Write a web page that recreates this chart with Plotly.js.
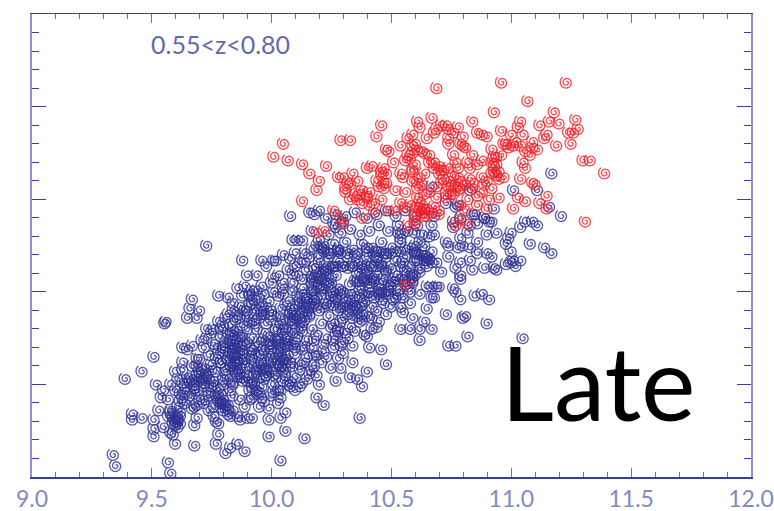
<!DOCTYPE html>
<html><head><meta charset="utf-8">
<script src="https://cdn.plot.ly/plotly-3.0.1.min.js"></script>
<style>html,body{margin:0;padding:0;background:#fff}#c{width:774px;height:511px}</style>
</head><body><div id="c"></div>
<script>
const blueX = [
9.34,9.35,9.39,9.46,9.51,9.555,9.56,9.42,9.42,9.46,
9.51,9.51,9.51,9.57,9.58,9.60,9.68,9.77,9.81,9.83,
9.86,9.89,10.04,9.99,10.06,10.14,10.37,9.99,10.04,10.06,
9.78,9.52,9.55,9.54,9.57,9.58,9.53,9.55,9.58,9.59,
9.58,9.61,9.62,9.60,9.61,9.63,9.61,9.68,9.69,9.69,
9.67,9.76,9.77,9.78,9.74,9.80,9.79,9.82,9.86,9.87,
9.90,9.92,9.89,9.95,9.99,9.92,9.96,10.03,10.04,9.84,
9.63,9.65,9.67,9.71,9.63,9.60,9.63,9.69,9.73,9.65,
9.66,9.67,9.70,9.69,9.78,9.82,9.84,9.86,9.90,9.94,
9.88,9.96,9.98,10.02,9.89,9.91,9.73,10.15,10.17,10.20,
10.19,10.22,10.27,10.33,10.36,10.38,10.40,10.29,10.25,10.28,
10.30,10.34,10.46,10.48,10.41,10.40,10.44,10.29,10.21,10.18,
10.12,10.08,10.08,10.06,11.21,11.11,11.09,11.06,11.04,11.08,
11.14,11.17,11.00,10.99,10.98,11.00,11.04,11.01,11.00,11.02,
10.98,10.94,10.93,10.89,10.84,10.83,10.92,10.90,10.86,10.94,
10.90,10.86,10.92,10.89,10.83,10.80,10.79,10.82,10.78,10.74,
10.73,10.76,10.85,10.78,10.71,10.77,10.79,10.74,10.79,10.79,
10.69,10.67,10.65,10.64,10.61,10.60,10.67,10.65,10.66,10.68,
10.63,10.67,10.60,10.55,10.53,10.54,10.54,10.55,10.61,10.65,
10.60,10.57,10.67,10.69,10.70,10.65,10.62,10.59,10.68,10.67,
10.76,10.77,10.79,10.85,10.88,10.91,10.65,10.73,10.81,10.80,
10.90,10.82,10.74,10.77,11.05,10.58,10.62,10.67,10.64,10.62,
10.59,10.55,10.54,10.58,10.55,11.17,11.01,11.11,11.16,10.93,
10.89,10.91,10.67,10.73,10.77,10.84,10.83,10.86,10.79,10.76,
10.83,10.08,10.16,10.18,10.20,10.17,10.09,10.11,10.13,10.20,
10.10,10.14,10.17,10.28,10.31,10.35,10.26,10.29,10.01,10.05,
9.62,9.66,9.70,9.74,9.78,9.83,9.87,9.91,9.95,10.00,
9.60,9.64,9.68,9.72,9.76,9.80,9.84,9.88,9.93,9.97,
10.01,10.05,10.03,10.10,9.61,9.65,9.69,9.73,9.77,9.81,
9.85,9.83,9.87,9.90,9.94,9.98,10.02,10.06,10.12,9.63,
9.67,9.71,9.75,9.79,9.86,9.82,9.89,9.84,9.88,9.92,
9.96,10.00,10.04,10.08,10.14,10.18,9.70,9.74,9.78,9.80,
9.85,9.89,9.83,9.87,9.92,9.96,10.00,10.04,10.06,10.10,
10.13,10.17,10.22,10.26,9.76,9.72,9.79,9.84,9.88,9.92,
9.95,9.99,10.03,10.07,10.11,10.15,10.19,10.23,10.27,10.32,
9.76,9.80,9.85,9.90,9.94,9.98,10.02,10.06,10.05,10.09,
10.13,10.17,10.21,10.25,10.29,10.33,10.37,9.82,9.87,9.92,
9.96,10.00,10.04,10.08,10.12,10.16,10.20,10.24,10.28,10.32,
10.36,10.40,10.44,10.48,9.95,9.99,10.03,10.07,10.11,10.15,
10.19,10.23,10.27,10.31,10.35,10.39,10.43,10.47,10.51,10.54,
9.92,9.96,10.00,10.05,10.09,10.13,10.17,10.21,10.25,10.29,
10.33,10.37,10.41,10.45,10.49,10.53,10.57,10.03,10.07,10.11,
10.15,10.19,10.23,10.27,10.36,10.40,10.44,10.48,10.52,10.56,
10.08,10.12,10.16,10.20,10.24,10.28,10.32,10.36,10.40,10.44,
10.48,10.52,10.56,10.60,10.22,10.26,10.34,10.38,10.42,10.46,
10.50,10.54,10.58,10.62,10.24,10.27,10.30,10.33,10.37,10.41,
10.45,10.49,10.53,10.57,10.61,10.23,10.27,10.31,10.40,10.44,
10.48,10.52,10.56,10.60,10.64,10.68,9.85,9.86,9.84,9.87
];
const blueY = [
9.12,9.06,9.53,9.57,9.65,9.83,9.84,9.34,9.31,9.32,
9.31,9.26,9.22,9.08,9.02,9.18,9.17,9.18,9.13,9.16,
9.18,9.14,9.09,9.22,9.25,9.21,9.32,9.31,9.32,9.35,
9.23,9.50,9.47,9.43,9.42,9.50,9.36,9.27,9.24,9.23,
9.35,9.32,9.29,9.30,9.27,9.43,9.38,9.28,9.32,9.39,
9.37,9.33,9.30,9.29,9.36,9.40,9.41,9.39,9.33,9.31,
9.32,9.32,9.38,9.38,9.37,9.43,9.43,9.40,9.43,9.44,
9.70,9.69,9.71,9.74,9.62,9.57,9.51,9.64,9.80,9.86,
9.91,9.96,9.90,9.86,9.98,9.97,9.94,10.02,10.09,10.09,
10.17,10.17,10.14,10.17,10.03,9.98,10.25,9.53,9.58,9.50,
9.43,9.39,9.52,9.54,9.53,9.49,9.57,9.59,9.59,9.64,
9.67,9.62,9.69,9.61,9.70,9.76,9.81,9.71,9.62,9.66,
9.49,9.49,9.52,9.59,10.41,10.36,10.38,10.38,10.35,10.26,
10.24,10.21,10.32,10.29,10.26,10.22,10.17,10.17,10.16,10.14,
10.15,10.12,10.13,10.13,10.12,10.17,10.19,10.21,10.21,10.32,
10.31,10.27,10.38,10.40,10.24,10.25,10.29,10.32,10.24,10.25,
10.27,10.35,10.42,10.47,10.11,10.13,10.16,10.19,10.07,10.09,
10.16,10.16,10.17,10.17,10.21,10.22,10.22,10.19,10.30,10.31,
10.31,10.36,10.32,10.32,10.32,10.29,10.22,10.16,10.17,10.14,
10.09,10.09,10.03,10.03,10.03,10.03,9.99,10.06,9.97,9.97,
10.02,10.00,9.96,9.98,9.99,9.96,9.91,9.88,9.87,9.86,
9.83,9.76,9.71,9.71,9.75,9.80,9.80,9.80,9.84,9.74,
9.86,9.89,9.80,9.94,9.97,10.64,10.55,10.55,10.46,10.45,
10.40,10.38,10.57,10.48,10.46,10.42,10.36,10.37,10.40,10.38,
10.55,10.41,10.43,10.42,10.44,10.33,10.28,10.28,10.28,10.28,
10.21,10.21,10.23,10.23,10.27,10.43,10.37,10.32,10.17,10.20,
9.41,9.44,9.42,9.46,9.41,9.47,9.42,9.47,9.46,9.44,
9.47,9.49,9.48,9.51,9.50,9.53,9.50,9.54,9.51,9.53,
9.50,9.52,9.47,9.54,9.53,9.54,9.55,9.56,9.57,9.56,
9.58,9.60,9.56,9.59,9.57,9.58,9.56,9.55,9.58,9.58,
9.60,9.58,9.61,9.62,9.63,9.64,9.62,9.66,9.67,9.64,
9.62,9.63,9.60,9.62,9.62,9.60,9.64,9.66,9.67,9.70,
9.70,9.72,9.74,9.76,9.69,9.67,9.69,9.66,9.64,9.67,
9.69,9.70,9.68,9.70,9.72,9.70,9.76,9.79,9.82,9.75,
9.73,9.76,9.72,9.74,9.76,9.74,9.77,9.75,9.77,9.75,
9.80,9.82,9.85,9.87,9.80,9.83,9.79,9.81,9.85,9.83,
9.82,9.80,9.83,9.81,9.84,9.81,9.84,9.88,9.92,9.94,
9.90,9.88,9.91,9.89,9.92,9.88,9.90,9.87,9.90,9.88,
9.91,9.87,9.90,9.88,9.97,9.95,9.98,9.95,9.98,9.95,
9.97,9.94,9.97,9.95,9.98,9.95,9.97,9.94,9.96,9.92,
10.01,10.03,10.05,10.02,10.05,10.02,10.05,10.02,10.05,10.01,
10.04,10.01,10.05,10.02,10.04,10.01,10.03,10.09,10.12,10.09,
10.12,10.09,10.12,10.09,10.10,10.12,10.09,10.12,10.09,10.12,
10.18,10.16,10.19,10.16,10.19,10.16,10.19,10.17,10.19,10.17,
10.19,10.17,10.19,10.17,10.23,10.26,10.23,10.26,10.24,10.27,
10.24,10.27,10.24,10.27,10.31,10.35,10.38,10.34,10.31,10.33,
10.36,10.33,10.36,10.33,10.36,10.40,10.42,10.41,10.40,10.42,
10.44,10.41,10.44,10.41,10.45,10.41,9.61,9.68,9.72,9.64
];
const blueCoreX = [
9.80,9.82,9.84,9.86,9.88,9.90,9.81,9.83,9.85,9.87,
9.79,9.82,9.84,9.86,9.89,9.91,9.80,9.83,9.85,9.88,
9.81,9.84,9.86,9.83,9.85,9.87,9.90,9.82,9.84,9.86,
9.88,9.92,9.94,9.96,9.98,10.00,9.93,9.95,9.97,9.99,
10.03,10.04,10.05,10.06,10.07,10.04,10.05,10.06,10.03,10.07,
10.05,10.08,10.02,10.04,10.06,10.08,10.10,10.12,10.14,10.16,
10.13,10.15,10.17,10.14,10.16,10.18,10.12,10.15,10.17,10.19,
10.18,10.20,10.22,10.24,10.19,10.21,10.23,10.17,10.20,10.22,
10.26,10.28,10.30,10.25,10.27,10.24,10.29,10.31,10.33,10.35,
10.37,10.39,10.41,10.43,10.38,10.40,10.42,10.36,10.39,10.41,
10.44,10.46,10.43,10.45,10.47,10.50,10.48,10.51,10.53,10.46,
9.68,9.70,9.72,9.69,9.71,9.67,9.73,9.66,9.70,9.72,
9.74,9.68,9.76,9.78,9.75,9.79,9.77,9.73,9.64,9.62,
9.79,9.80,9.81,9.78,9.82,9.80,9.79,9.82,9.84,9.83,
9.59,9.60,9.61,9.62,9.58,9.60,9.59,9.61,9.57,9.62,
9.92,9.94,9.96,9.90,9.93,9.95,9.98,10.00,10.02,9.97,
9.99,10.01,10.03,10.00,10.02,9.97,10.10,10.09,10.11,10.13,
10.10,10.08,10.12,10.09,10.11,9.91,9.93,9.95,9.97,9.94,
9.96,9.98,10.00,9.89,9.91,9.93,10.26,10.28,10.30,10.34,
10.36,10.38,10.35,10.37,10.33,10.45,10.47,10.49,10.46,10.50,
10.30,10.32,10.29,10.34,10.37,10.39,10.42,10.35,10.40,10.44,
10.58,10.56,10.59,10.62,10.60,10.64,10.66,10.63,10.20,10.22,
10.24,10.26,10.22,10.25,10.28,10.19,10.21,10.23,10.27,10.18
];
const blueCoreY = [
9.50,9.53,9.51,9.54,9.52,9.55,9.58,9.60,9.57,9.59,
9.62,9.63,9.65,9.62,9.64,9.66,9.68,9.67,9.66,9.69,
9.71,9.70,9.73,9.72,9.75,9.71,9.73,9.78,9.77,9.79,
9.76,9.60,9.58,9.61,9.59,9.62,9.67,9.66,9.69,9.72,
9.62,9.60,9.64,9.62,9.66,9.68,9.70,9.72,9.74,9.76,
9.78,9.72,9.80,9.83,9.80,9.85,9.86,9.84,9.85,9.87,
9.89,9.90,9.92,9.93,9.94,9.96,9.95,9.97,9.99,9.93,
10.01,10.03,10.02,10.04,10.06,10.07,10.05,10.07,10.09,10.11,
10.00,10.02,10.00,9.98,9.96,9.93,9.92,9.93,9.96,9.93,
10.04,10.06,10.03,10.06,10.08,10.10,10.08,10.06,9.99,9.98,
10.14,10.15,10.20,10.22,10.21,10.21,10.11,10.06,10.07,10.00,
9.50,9.52,9.49,9.47,9.54,9.53,9.55,9.52,9.57,9.59,
9.53,9.45,9.52,9.48,9.49,9.45,9.44,9.42,9.46,9.45,
9.40,9.42,9.39,9.44,9.37,9.36,9.38,9.34,9.36,9.33,
9.32,9.34,9.31,9.33,9.36,9.28,9.29,9.30,9.33,9.35,
9.49,9.47,9.49,9.52,9.55,9.54,9.55,9.57,9.54,9.59,
9.66,9.65,9.68,9.72,9.74,9.78,9.70,9.78,9.80,9.79,
9.86,9.88,9.86,9.91,9.94,9.84,9.83,9.86,9.88,9.91,
9.93,9.92,9.90,9.90,9.93,9.96,9.83,9.79,9.86,9.86,
9.87,9.88,9.93,9.92,9.92,9.99,10.00,10.01,10.05,10.03,
10.14,10.13,10.21,10.14,10.14,10.15,10.14,10.20,10.22,10.22,
10.00,10.06,10.10,10.11,10.21,10.25,10.18,10.20,10.19,10.22,
10.13,10.14,10.25,10.21,10.23,10.25,10.24,10.10,10.14,10.13
];
const blueFillX = [
9.64,9.68,9.72,9.76,9.74,9.66,9.71,9.75,9.69,9.77,
9.91,9.94,9.97,10.01,10.04,10.07,10.10,10.13,10.16,10.19,
9.92,9.95,9.98,10.02,10.05,10.09,10.12,10.15,10.19,10.23,
9.77,9.81,9.73,9.75,9.79,9.78,9.81,9.83,9.86,9.90,
9.94,9.97,10.00,10.03,10.07,10.10,10.14,10.18,10.22,10.26,
10.30,10.34,10.28,10.31,10.35,10.39,10.42,10.45,10.38,10.42,
9.84,9.87,9.90,9.93,9.96,10.00,10.03,10.06,10.10,10.14,
10.18,10.22,10.26,10.30,10.34,10.38,10.42,10.46,10.50,10.52,
9.88,9.91,9.94,9.97,10.01,10.05,10.09,10.13,10.17,10.21,
10.25,10.29,10.33,10.37,10.41,10.45,10.49,10.53,10.56,10.59,
10.01,10.05,10.09,10.13,10.17,10.21,10.25,10.35,10.39,10.43,
10.47,10.51,10.55,10.59,10.10,10.14,10.18,10.22,10.26,10.30,
10.34,10.38,10.42,10.46,10.50,10.54,10.58,10.62,10.24,10.28,
10.32,10.36,10.40,10.44,10.48,10.52,10.56,10.60,10.64,10.66
];
const blueFillY = [
9.40,9.38,9.40,9.38,9.44,9.51,9.53,9.58,9.60,9.64,
9.42,9.45,9.41,9.46,9.47,9.50,9.47,9.51,9.56,9.55,
9.51,9.60,9.55,9.60,9.58,9.60,9.61,9.65,9.66,9.65,
9.70,9.73,9.75,9.78,9.80,9.84,9.86,9.82,9.88,9.80,
9.71,9.74,9.72,9.75,9.71,9.73,9.71,9.74,9.72,9.74,
9.73,9.71,9.80,9.78,9.79,9.77,9.80,9.84,9.85,9.86,
9.90,9.86,9.90,9.85,9.88,9.85,9.87,9.93,9.88,9.90,
9.94,9.92,9.93,9.92,9.90,9.93,9.92,9.96,9.92,9.97,
9.98,9.99,10.01,9.99,10.00,9.99,10.01,9.99,10.01,9.99,
9.98,9.99,9.99,9.97,10.00,10.00,9.99,9.99,10.04,10.05,
10.08,10.05,10.10,10.07,10.08,10.07,10.08,10.06,10.07,10.07,
10.07,10.06,10.07,10.08,10.14,10.16,10.13,10.13,10.14,10.14,
10.14,10.13,10.14,10.14,10.13,10.14,10.14,10.13,10.21,10.22,
10.21,10.21,10.24,10.19,10.21,10.22,10.23,10.25,10.20,10.18
];
const redX = [
10.05,10.01,10.07,10.13,10.16,10.20,10.19,10.13,10.23,10.29,
10.33,10.44,10.46,10.28,10.30,10.34,10.32,10.36,10.31,10.33,
10.37,10.40,10.41,10.43,10.46,10.40,10.42,10.46,10.47,10.45,
10.48,10.26,10.29,10.30,10.38,10.43,10.19,10.22,10.69,10.96,
11.23,11.07,10.93,11.18,10.61,10.67,10.62,10.84,10.69,10.68,
10.73,10.74,10.76,10.74,10.59,10.54,10.49,10.86,10.88,10.90,
10.96,11.00,11.04,11.03,11.05,10.97,10.99,11.01,11.04,11.09,
11.11,11.08,11.09,11.12,11.16,11.20,11.27,11.28,11.24,11.26,
11.15,11.14,11.25,11.19,11.30,11.33,11.39,11.31,10.94,11.05,
11.06,11.04,11.09,11.10,11.15,11.03,11.06,11.12,11.15,11.01,
10.95,10.93,10.92,10.94,10.88,10.95,10.92,10.95,10.91,10.90,
10.86,10.88,10.84,10.82,10.83,10.86,10.80,10.81,10.79,10.76,
10.77,10.74,10.78,10.68,10.68,10.70,10.64,10.66,10.59,10.59,
10.57,10.56,10.51,10.54,10.48,10.52,10.56,10.59,10.61,10.59,
10.62,10.61,10.61,10.66,10.69,10.72,10.74,10.76,10.78,10.76,
10.81,10.79,10.84,10.82,10.86,10.69,10.73,10.68,10.70,10.81,
10.62,10.61,10.63,10.65,10.60,10.54,10.56,10.52,10.49,10.57,
10.60,10.79,10.77,10.82,10.56,10.63,10.64,10.75,10.77,10.79,
10.62,10.67,10.64,10.58,10.60,10.65,10.70,10.59,10.55,10.63,
10.71,10.79,10.84,10.78,10.73,10.88,10.76,10.74,10.72,10.83,
10.89,10.94,10.97,10.92,10.90,10.96,10.93,10.60,10.64,10.57,
10.98,11.02,11.06,10.93,10.92,10.78,10.65,10.71,10.74,10.80,
10.31,10.33,10.35,10.38,10.40,10.36,10.38,10.41,10.47,10.48,
10.46,10.44,10.47,10.60,10.58,10.61,10.63,10.66,10.70,10.71
];
const redY = [
10.80,10.73,10.71,10.69,10.64,10.60,10.55,10.49,10.68,10.82,
10.82,10.84,10.90,10.62,10.62,10.64,10.59,10.60,10.54,10.50,
10.53,10.51,10.54,10.48,10.50,10.67,10.68,10.63,10.67,10.57,
10.77,10.44,10.40,10.37,10.40,10.43,10.32,10.33,11.10,11.13,
11.13,11.03,10.97,10.97,10.92,10.94,10.89,10.92,10.88,10.86,
10.90,10.88,10.86,10.83,10.85,10.79,10.76,10.86,10.85,10.84,
10.87,10.85,10.92,10.89,10.85,10.80,10.78,10.79,10.79,10.81,
10.77,10.74,10.78,10.90,10.92,10.91,10.93,10.88,10.86,10.86,
10.85,10.83,10.80,10.79,10.71,10.71,10.64,10.38,10.73,10.70,
10.67,10.61,10.59,10.58,10.52,10.51,10.49,10.48,10.45,10.45,
10.65,10.65,10.64,10.63,10.62,10.61,10.56,10.51,10.50,10.45,
10.47,10.71,10.74,10.70,10.67,10.69,10.79,10.78,10.80,10.74,
10.70,10.67,10.67,10.70,10.67,10.68,10.75,10.74,10.79,10.75,
10.74,10.71,10.70,10.64,10.59,10.55,10.54,10.65,10.59,10.60,
10.62,10.56,10.51,10.54,10.57,10.61,10.60,10.58,10.55,10.53,
10.58,10.56,10.59,10.50,10.52,10.51,10.51,10.46,10.42,10.44,
10.44,10.46,10.43,10.45,10.42,10.48,10.46,10.44,10.44,10.36,
10.39,10.39,10.36,10.37,10.04,10.47,10.41,10.53,10.57,10.60,
10.49,10.43,10.53,10.47,10.37,10.41,10.44,10.66,10.62,10.58,
10.59,10.47,10.56,10.62,10.53,10.54,10.63,10.57,10.66,10.61,
10.58,10.69,10.62,10.70,10.60,10.74,10.68,10.80,10.64,10.83,
10.80,10.81,10.76,10.73,10.77,10.89,10.83,10.90,10.80,10.84,
10.56,10.58,10.52,10.55,10.52,10.50,10.48,10.47,10.59,10.64,
10.65,10.60,10.56,10.69,10.72,10.77,10.76,10.70,10.64,10.66
];
const xTickVals = [9,9.5,10,10.5,11,11.5,12];
const xTickText = ["9.0","9.5","10.0","10.5","11.0","11.5","12.0"];
const redshiftLabel = "0.55<z<0.80";
const typeLabel = "Late";

const PW = 719.5, PH = 463;
const xRange = [9,12], yRange = [9,11.5];
const sx = (xRange[1]-xRange[0])/PW, sy = (yRange[1]-yRange[0])/PH;
function spirals(X,Y){
  const ox=[],oy=[];
  const steps=24, start=125*Math.PI/180, turns=1.95, rOut=6.8, rIn=1.0;
  for(let i=0;i<X.length;i++){
    for(let k=0;k<=steps;k++){
      const f=k/steps, a=start+f*turns*2*Math.PI, r=rOut+(rIn-rOut)*f;
      ox.push(X[i]+r*Math.cos(a)*sx);
      oy.push(Y[i]+r*Math.sin(a)*sy);
    }
    ox.push(null);oy.push(null);
  }
  return {x:ox,y:oy};
}
const b=spirals(blueX.concat(blueCoreX,blueFillX),blueY.concat(blueCoreY,blueFillY)), r=spirals(redX,redY);
const traces=[
 {type:'scatter',mode:'lines',x:b.x,y:b.y,hoverinfo:'skip',line:{color:'rgba(46,49,146,0.8)',width:1.3,simplify:false}},
 {type:'scatter',mode:'lines',x:r.x,y:r.y,hoverinfo:'skip',line:{color:'rgba(237,28,36,0.78)',width:1.3,simplify:false}}
];
const layout={
 width:774,height:511,showlegend:false,paper_bgcolor:'#fff',plot_bgcolor:'#fff',
 margin:{l:31.5,r:23,t:14,b:34,pad:0},
 font:{family:'Lato, "Open Sans", sans-serif'},
 xaxis:{range:xRange,tickmode:'array',tickvals:xTickVals,ticktext:xTickText,ticks:'inside',ticklen:9,tickwidth:1,
  tickcolor:'#6a6eb4',mirror:'ticks',showline:true,linecolor:'#3a3e98',linewidth:1.5,showgrid:false,zeroline:false,
  ticklabelstandoff:1,tickfont:{size:23,color:'#8388c2',family:'Lato, sans-serif'},
  minor:{dtick:0.1,ticks:'inside',ticklen:5,tickwidth:1,tickcolor:'#6a6eb4',showgrid:false}},
 yaxis:{range:yRange,dtick:0.5,tick0:9,ticks:'inside',ticklen:14,tickwidth:1,tickcolor:'#3a3e98',mirror:'ticks',
  showline:true,linecolor:'#8f93c9',linewidth:2,showgrid:false,zeroline:false,showticklabels:false,
  minor:{dtick:0.1,ticks:'inside',ticklen:7,tickwidth:1,tickcolor:'#3a3e98',showgrid:false}},
 annotations:[
  {x:9.49,y:11.34,xref:'x',yref:'y',text:redshiftLabel.replace(/</g,'&lt;'),showarrow:false,xanchor:'left',yanchor:'middle',
   font:{size:25,color:'#6468ae',family:'Lato, sans-serif'}},
  {x:10.95,y:9.52,xref:'x',yref:'y',text:typeLabel,showarrow:false,xanchor:'left',yanchor:'middle',
   font:{size:103,color:'#000',family:'Lato, sans-serif'}}
 ]
};
Plotly.newPlot('c',traces,layout,{displayModeBar:false,staticPlot:true});
</script></body></html>
